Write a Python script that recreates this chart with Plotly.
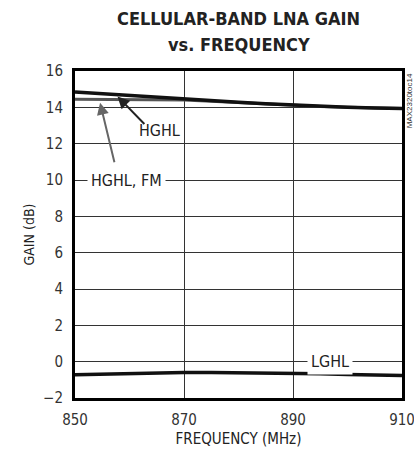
import plotly.graph_objects as go

freq = [850, 855, 860, 865, 870, 875, 880, 885, 890, 895, 900, 905, 910]
hghl = [14.85, 14.75, 14.64, 14.54, 14.45, 14.36, 14.28, 14.20, 14.13, 14.06, 14.01, 13.97, 13.94]
hghl_fm = [14.45, 14.44, 14.43, 14.42, 14.40, 14.34, 14.26, 14.19, 14.12, 14.05, 14.00, 13.96, 13.93]
lghl = [-0.72, -0.68, -0.64, -0.62, -0.60, -0.59, -0.60, -0.62, -0.64, -0.66, -0.70, -0.73, -0.76]

x_ticks = [850, 870, 890, 910]
y_ticks = [-2, 0, 2, 4, 6, 8, 10, 12, 14, 16]

FONT = "DejaVu Sans Condensed, Liberation Sans, sans-serif"

fig = go.Figure()
fig.add_trace(go.Scatter(x=freq, y=lghl, mode="lines", line=dict(color="#111", width=3.5), showlegend=False))
fig.add_trace(go.Scatter(x=freq, y=hghl_fm, mode="lines", line=dict(color="#555", width=3), showlegend=False))
fig.add_trace(go.Scatter(x=freq, y=hghl, mode="lines", line=dict(color="#111", width=3.5), showlegend=False))

axis_common = dict(showgrid=True, gridcolor="#333", gridwidth=1, showline=True, mirror=True,
                   linecolor="#000", linewidth=3, zeroline=False, ticks="", automargin=False,
                   ticklabeloverflow="allow",
                   tickfont=dict(family=FONT, size=15, color="#333"))

fig.update_xaxes(range=[850, 910], tickvals=x_ticks, ticklabelstandoff=6, **axis_common,
                 title=dict(text="FREQUENCY (MHz)", font=dict(family=FONT, size=15, color="#222"), standoff=6))
fig.update_yaxes(range=[-2, 16], tickvals=y_ticks, ticklabelstandoff=6, **axis_common,
                 title=dict(text="GAIN (dB)", font=dict(family=FONT, size=14, color="#222"), standoff=6))

PLOT_TOP = 71
PLOT_H = 327

annotations = [
    dict(x=865.5, y=12.75, xref="x", yref="y", text="HGHL", showarrow=False,
         font=dict(family=FONT, size=16, color="#222"), bgcolor="white"),
    dict(x=857.8, y=14.6, xref="x", yref="y", ax=863.0, ay=13.0, axref="x", ayref="y",
         text="", showarrow=True, arrowhead=2, arrowsize=1.2, arrowwidth=2, arrowcolor="#222"),
    dict(x=859.5, y=10, xref="x", yref="y", text="HGHL, FM", showarrow=False,
         font=dict(family=FONT, size=16, color="#222"), bgcolor="white", borderpad=3),
    dict(x=854.6, y=14.25, xref="x", yref="y", ax=857.3, ay=10.9, axref="x", ayref="y",
         text="", showarrow=True, arrowhead=2, arrowsize=1.2, arrowwidth=2, arrowcolor="#666"),
    dict(x=896.8, y=0, xref="x", yref="y", text="LGHL", showarrow=False,
         font=dict(family=FONT, size=16, color="#222"), bgcolor="white", borderpad=3),
    dict(x=1.004, y=1.0, xref="paper", yref="paper", text="MAX2320toc14", showarrow=False,
         textangle=-90, xanchor="left", yanchor="top", font=dict(family="Liberation Sans", size=8, color="#333")),
    dict(x=0.5, y=1 + (PLOT_TOP - 18) / PLOT_H, xref="paper", yref="paper", text="<b>CELLULAR-BAND LNA GAIN</b>",
         showarrow=False, xanchor="center", yanchor="middle", font=dict(family=FONT, size=18, color="#222")),
    dict(x=0.5, y=1 + (PLOT_TOP - 45) / PLOT_H, xref="paper", yref="paper", text="<b>vs. FREQUENCY</b>",
         showarrow=False, xanchor="center", yanchor="middle", font=dict(family=FONT, size=18, color="#222")),
]

fig.update_layout(
    width=414, height=455,
    margin=dict(l=75, r=12, t=PLOT_TOP, b=57),
    paper_bgcolor="white", plot_bgcolor="white",
    annotations=annotations,
)

fig.write_html("out.html", config={"displayModeBar": False},
               post_script="document.body.style.margin='0';document.body.style.overflow='hidden';")
